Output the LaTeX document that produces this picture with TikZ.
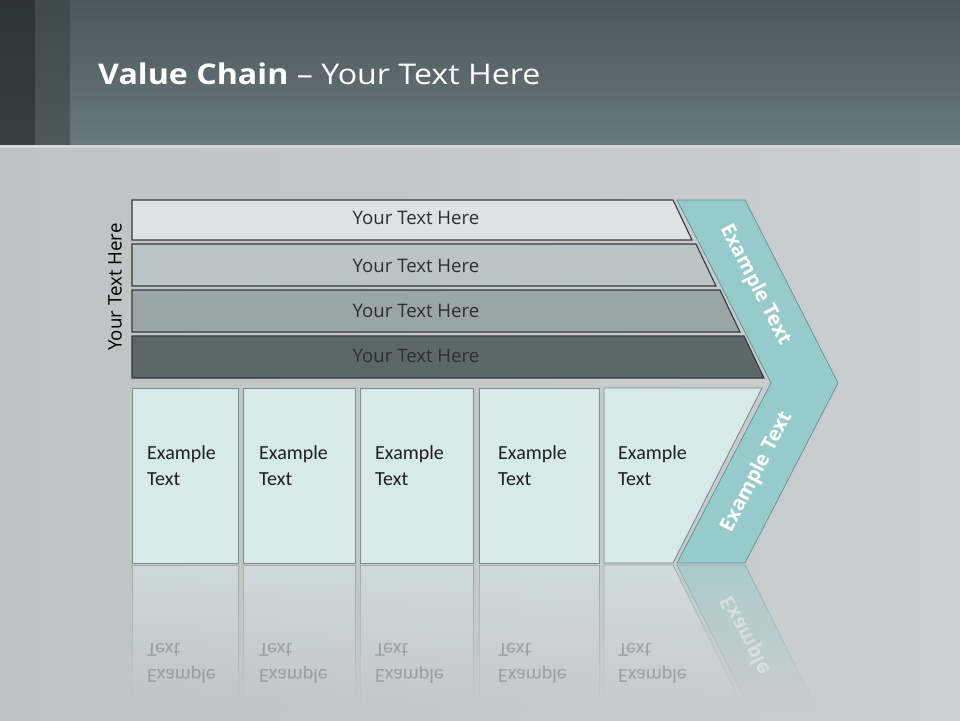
\documentclass[tikz,border=0pt]{standalone}
\usepackage{fontspec}
\setmainfont{Carlito}
\newfontfamily\uifont{Open Sans}
\usetikzlibrary{fadings}
\definecolor{hdT}{HTML}{4A565B}
\definecolor{hdB}{HTML}{6A797D}
\definecolor{s1T}{HTML}{2C3437}
\definecolor{s1B}{HTML}{353E41}
\definecolor{s2T}{HTML}{3E494D}
\definecolor{s2B}{HTML}{4C585C}
\definecolor{hdLine}{HTML}{D5D9DA}
\definecolor{bgL}{HTML}{BEC3C4}
\definecolor{bgR}{HTML}{CBCFD0}
\definecolor{barA}{HTML}{DEE2E3}
\definecolor{barB}{HTML}{BBC4C7}
\definecolor{barC}{HTML}{99A5A9}
\definecolor{barD}{HTML}{5B676B}
\definecolor{barline}{HTML}{343A3C}
\definecolor{bartxt}{HTML}{2A3032}
\definecolor{chev}{HTML}{97CACB}
\definecolor{chevline}{HTML}{5E8F91}
\definecolor{boxfill}{HTML}{D7E9EB}
\definecolor{boxline}{HTML}{7D8B8D}
\tikzfading[name=reflfade, top color=transparent!45, bottom color=transparent!100]
\tikzset{
  barshape/.style={draw=barline, line width=1.1pt},
  bartext/.style={font=\uifont\fontsize{18.6}{22}\selectfont, text=bartxt},
  boxshape/.style={fill=boxfill, draw=boxline, line width=0.9pt},
  boxtext/.style={font=\fontsize{20}{24}\selectfont, anchor=base west, text=black!88, inner sep=0pt},
  chevtext/.style={font=\uifont\bfseries\fontsize{20}{24}\selectfont, text=white},
  reflbox/.style={fill=boxfill, draw=boxline, line width=0.9pt, path fading=reflfade},
  refltext/.style={font=\fontsize{20}{24}\selectfont, anchor=base west, text=black!60, opacity=0.45, inner sep=0pt, yscale=-1, transform shape}
}
\begin{document}
\begin{tikzpicture}[x=1pt,y=-1pt]
\useasboundingbox (0,0) rectangle (960,720);
% background
\shade[left color=bgL, right color=bgR] (0,145) rectangle (960,720);
\shade[top color=hdT, bottom color=hdB] (0,0) rectangle (960,145);
\shade[top color=s1T, bottom color=s1B] (0,0) rectangle (35,145);
\shade[top color=s2T, bottom color=s2B] (35,0) rectangle (70,145);
\fill[hdLine] (0,145) rectangle (960,148);
% title
\node[anchor=base west, text=white, font=\uifont\fontsize{28.5}{34}\selectfont, inner sep=0pt, xscale=1.13, transform shape] (title) at (98,84) {\bfseries Value Chain\mdseries{} – Your Text Here};
% side label
\node[rotate=90, font=\uifont\fontsize{18.7}{22}\selectfont, text=black] (side) at (115,287) {Your Text Here};
% bars
\fill[barA, barshape] (132,200) -- (673,200) -- (692,240) -- (132,240) -- cycle;
\fill[barB, barshape] (132,244) -- (696,244) -- (716,286) -- (132,286) -- cycle;
\fill[barC, barshape] (132,290) -- (720,290) -- (740,332) -- (132,332) -- cycle;
\fill[barD, barshape] (132,336) -- (744,336) -- (764,378) -- (132,378) -- cycle;
\node[bartext] (t1) at (416,218) {Your Text Here};
\node[bartext] (t2) at (416,266) {Your Text Here};
\node[bartext] (t3) at (416,311) {Your Text Here};
\node[bartext] (t4) at (416,356) {Your Text Here};
% chevron
\fill[chev, draw=chevline, line width=0.7pt] (677,200) -- (745,200) -- (838,383) -- (745,563) -- (677,563) -- (771,383) -- cycle;
\node[chevtext, rotate=-62.6] (c1) at (755,285) {Example Text};
\node[chevtext, rotate=62.6] (c2) at (757,472) {Example Text};
% boxes
\draw[boxshape] (132,388) rectangle (238,563);
\draw[boxshape] (243,388) rectangle (355,563);
\draw[boxshape] (360,388) rectangle (473,563);
\draw[boxshape] (479,388) rectangle (599,563);
\draw[boxshape] (604,388) -- (762,388) -- (673,563) -- (604,563) -- cycle;
\foreach \x [count=\i] in {147,259,375,498,618}{
  \node[boxtext] (e\i) at (\x,459) {Example};
  \node[boxtext] (x\i) at (\x,485) {Text};
}
% reflection
\foreach \a/\b in {132/238,243/355,360/473,479/599}{
  \path[reflbox] (\a,565) rectangle (\b,705);
}
\path[reflbox] (604,565) -- (673,565) -- (742,705) -- (604,705) -- cycle;
\path[fill=chev, draw=chevline, line width=0.7pt, path fading=reflfade] (677,565) -- (745,565) -- (815,705) -- (748,705) -- cycle;
\foreach \x [count=\i] in {147,259,375,498,618}{
  \node[refltext] (re\i) at (\x,669) {Example};
  \node[refltext] (rx\i) at (\x,643) {Text};
}
\begin{scope}
  \clip (677,565) -- (745,565) -- (800,672) -- (733,672) -- cycle;
  \node[chevtext, opacity=0.4, yscale=-1, rotate=62.6, transform shape] (rc) at (757,656) {Example Text};
\end{scope}
\end{tikzpicture}
\end{document}
